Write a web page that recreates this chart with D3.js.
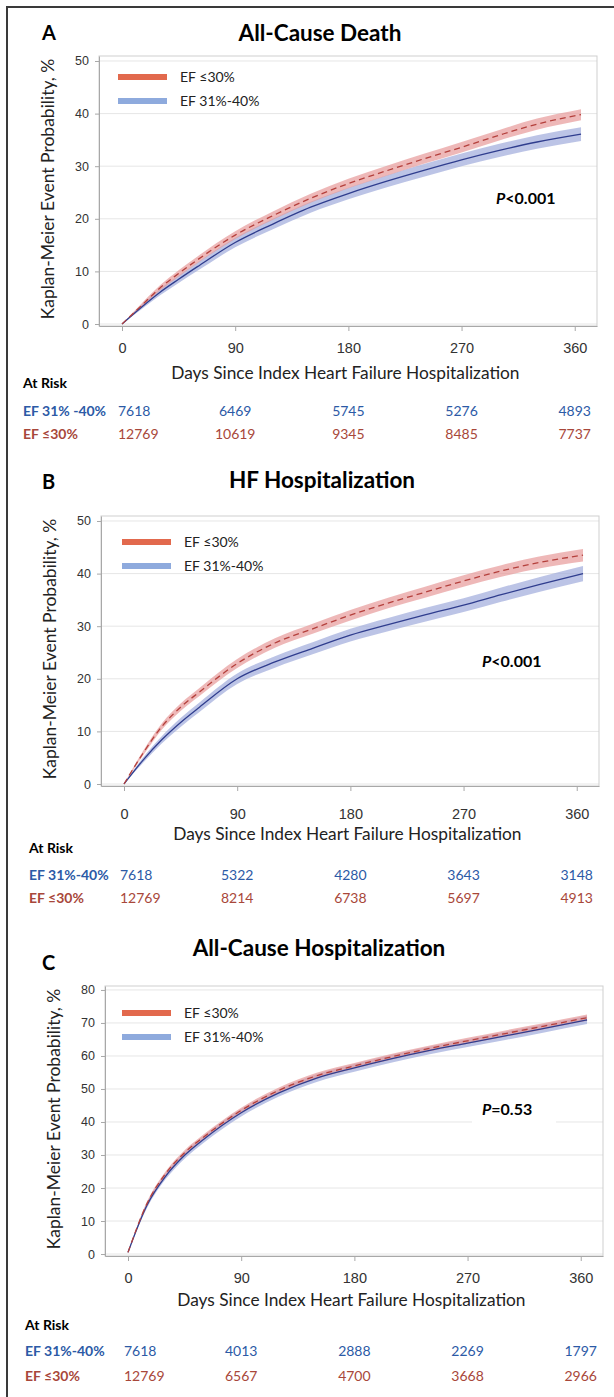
<!DOCTYPE html>
<html>
<head>
<meta charset="utf-8">
<script src="https://cdn.jsdelivr.net/npm/d3@7"></script>
<style>
  body { margin: 0; background: #fff; }
  svg { display: block; font-family: Lato, "Open Sans", "DejaVu Sans", sans-serif; }
  .axis path, .axis line { stroke: #a8a8a8; }
  .x-axis text { font-size: 14.5px; fill: #333; }
  .y-axis text { font-size: 12.5px; fill: #333; }
</style>
</head>
<body>
<svg id="chart" width="614" height="1397"></svg>
<script>
// Days of follow-up at which the curves were read
const days = [0, 15, 30, 45, 60, 90, 120, 150, 180, 210, 240, 270, 300, 330, 365];
const dayTicks = [0, 90, 180, 270, 360];

// A: all-cause death, KM event probability (%) and CI half-width
const deathEF30 = [0, 3.4, 6.8, 9.6, 12.2, 16.9, 20.6, 23.9, 26.7, 29.1, 31.4, 33.6, 35.9, 38.0, 39.8];
const deathEF3140 = [0, 3.1, 6.0, 8.5, 10.9, 15.5, 19.0, 22.2, 24.8, 27.1, 29.2, 31.2, 33.0, 34.6, 36.1];
const deathCI30 = [0, 0.35, 0.5, 0.6, 0.65, 0.75, 0.8, 0.85, 0.9, 0.95, 0.95, 1.0, 1.0, 1.05, 1.05];
const deathCI3140 = [0, 0.4, 0.6, 0.7, 0.8, 0.9, 1.0, 1.05, 1.1, 1.15, 1.2, 1.2, 1.25, 1.3, 1.3];

// B: HF hospitalization
const hfhEF30 = [0, 5.8, 10.9, 14.6, 17.5, 22.9, 26.8, 29.5, 32.1, 34.4, 36.5, 38.6, 40.5, 42.1, 43.5];
const hfhEF3140 = [0, 4.5, 8.4, 11.7, 14.6, 20.0, 23.2, 25.8, 28.3, 30.3, 32.2, 34.0, 36.0, 37.9, 40.0];
const hfhCI30 = [0, 0.45, 0.6, 0.7, 0.75, 0.85, 0.9, 0.95, 1.0, 1.0, 1.05, 1.1, 1.1, 1.15, 1.2];
const hfhCI3140 = [0, 0.5, 0.7, 0.85, 0.9, 1.0, 1.1, 1.15, 1.2, 1.25, 1.3, 1.3, 1.35, 1.4, 1.45];

// C: all-cause hospitalization
const achEF30 = [0.5, 15.2, 24.4, 30.7, 35.4, 43.5, 49.6, 54.0, 57.0, 59.8, 62.3, 64.6, 66.8, 69.0, 71.6];
const achEF3140 = [0.5, 14.7, 23.6, 29.9, 34.7, 42.8, 48.8, 53.3, 56.4, 59.2, 61.7, 63.9, 66.1, 68.3, 70.9];
const achCI30 = [0, 0.6, 0.7, 0.75, 0.8, 0.85, 0.85, 0.9, 0.9, 0.9, 0.9, 0.9, 0.95, 0.95, 0.95];
const achCI3140 = [0, 0.8, 0.9, 1.0, 1.05, 1.1, 1.1, 1.15, 1.15, 1.2, 1.2, 1.2, 1.25, 1.25, 1.25];

// Numbers at risk at 0, 90, 180, 270, 360 days
const deathRisk3140 = [7618, 6469, 5745, 5276, 4893];
const deathRisk30 = [12769, 10619, 9345, 8485, 7737];
const hfhRisk3140 = [7618, 5322, 4280, 3643, 3148];
const hfhRisk30 = [12769, 8214, 6738, 5697, 4913];
const achRisk3140 = [7618, 4013, 2888, 2269, 1797];
const achRisk30 = [12769, 6567, 4700, 3668, 2966];

const colors = {
  line30: "#b4403c",
  band30: "#e79a9a",
  legend30: "#e2694d",
  line3140: "#2f3d8e",
  band3140: "#9fabdb",
  legend3140: "#8eaadd",
  text30: "#a8473a",
  text3140: "#2c5aa6",
};

class KMPanel {
  constructor(_config, _series, _risk) {
    this.config = {
      svg: _config.svg,
      left: _config.left,
      top: _config.top,
      width: _config.width || 498,
      height: _config.height || 270,
      yDomain: _config.yDomain,
      yTicks: _config.yTicks,
      letter: _config.letter,
      title: _config.title,
      titleX: _config.titleX,
      titleY: _config.titleY,
      letterY: _config.letterY,
      legendX: _config.legendX,
      legendY: _config.legendY,
      pX: _config.pX,
      pY: _config.pY,
      pText: _config.pText,
      tickPadding: _config.tickPadding,
      xTitleY: _config.xTitleY,
      atRiskY: _config.atRiskY,
      rowY: _config.rowY,
      tableX: _config.tableX,
      label3140: _config.label3140,
    };
    this.series = _series;
    this.risk = _risk;
    this.initVis();
  }

  initVis() {
    let vis = this;
    const c = vis.config;

    vis.xScale = d3.scaleLinear().domain([-18.3, 377.7]).range([0, c.width]);
    vis.yScale = d3.scaleLinear().domain(c.yDomain).range([c.height, 0]);

    vis.chart = c.svg
      .append("g")
      .attr("transform", `translate(${c.left},${c.top})`);

    // gridlines + frame
    vis.chart
      .selectAll(".grid")
      .data(c.yTicks)
      .join("line")
      .attr("class", "grid")
      .attr("x1", 0)
      .attr("x2", c.width)
      .attr("y1", (d) => vis.yScale(d))
      .attr("y2", (d) => vis.yScale(d))
      .attr("stroke", "#e6e6e6");

    vis.chart
      .append("rect")
      .attr("width", c.width)
      .attr("height", c.height)
      .attr("fill", "none")
      .attr("stroke", "#cfcfcf");

    vis.xAxisG = vis.chart
      .append("g")
      .attr("class", "axis x-axis")
      .attr("transform", `translate(0,${c.height})`)
      .call(
        d3
          .axisBottom(vis.xScale)
          .tickValues(dayTicks)
          .tickSize(5)
          .tickSizeOuter(0)
          .tickPadding(c.tickPadding)
      );

    vis.yAxisG = vis.chart
      .append("g")
      .attr("class", "axis y-axis")
      .call(
        d3
          .axisLeft(vis.yScale)
          .tickValues(c.yTicks)
          .tickSize(4)
          .tickSizeOuter(0)
          .tickPadding(6)
      );

    vis.renderVis();
  }

  renderVis() {
    let vis = this;
    const c = vis.config;

    const pts = (vals, ci) =>
      days.map((d, i) => ({ day: d, v: vals[i], ci: ci[i] }));

    const area = d3
      .area()
      .x((d) => vis.xScale(d.day))
      .y0((d) => vis.yScale(d.v - d.ci))
      .y1((d) => vis.yScale(d.v + d.ci))
      .curve(d3.curveMonotoneX);

    const line = d3
      .line()
      .x((d) => vis.xScale(d.day))
      .y((d) => vis.yScale(d.v))
      .curve(d3.curveMonotoneX);

    const s30 = pts(vis.series.ef30, vis.series.ci30);
    const s3140 = pts(vis.series.ef3140, vis.series.ci3140);

    vis.chart.append("path").datum(s3140).attr("d", area)
      .attr("fill", colors.band3140).attr("opacity", 0.7);
    vis.chart.append("path").datum(s30).attr("d", area)
      .attr("fill", colors.band30).attr("opacity", 0.7);
    vis.chart.append("path").datum(s3140).attr("d", line)
      .attr("fill", "none").attr("stroke", colors.line3140).attr("stroke-width", 1.3);
    vis.chart.append("path").datum(s30).attr("d", line)
      .attr("fill", "none").attr("stroke", colors.line30).attr("stroke-width", 1.3)
      .attr("stroke-dasharray", "6,4");

    // legend
    const legend = [
      { label: "EF \u226430%", color: colors.legend30 },
      { label: "EF 31%-40%", color: colors.legend3140 },
    ];
    const lg = c.svg.append("g").attr("transform", `translate(${c.legendX},${c.legendY})`);
    legend.forEach((d, i) => {
      lg.append("line")
        .attr("x1", 0).attr("x2", 49)
        .attr("y1", i * 24).attr("y2", i * 24)
        .attr("stroke", d.color).attr("stroke-width", 6);
      lg.append("text")
        .attr("x", 62).attr("y", i * 24).attr("dy", "0.35em")
        .style("font-size", "14px").style("fill", "#222")
        .text(d.label);
    });

    // p value with white backing box
    c.svg.append("rect")
      .attr("x", c.pX - 10).attr("y", c.pY - 14)
      .attr("width", 84).attr("height", 30)
      .attr("fill", "#fff");
    const p = c.svg.append("text")
      .attr("x", c.pX).attr("y", c.pY).attr("dy", "0.35em")
      .style("font-size", "16px").style("font-weight", "bold");
    p.append("tspan").style("font-style", "italic").text("P");
    p.append("tspan").text(c.pText);

    // titles
    c.svg.append("text")
      .attr("x", 42).attr("y", c.letterY).attr("dy", "0.35em")
      .style("font-size", "20px").style("font-weight", "bold")
      .text(c.letter);
    c.svg.append("text")
      .attr("x", c.titleX).attr("y", c.titleY).attr("dy", "0.35em")
      .style("text-anchor", "middle")
      .style("font-size", "22.5px").style("font-weight", "bold")
      .text(c.title);

    // y-axis title
    const yMid = c.top + c.height / 2 - 2;
    c.svg.append("text")
      .attr("transform", `translate(${c.left - 51},${yMid}) rotate(-90)`)
      .attr("dy", "0.35em")
      .style("text-anchor", "middle")
      .style("font-size", "17.5px").style("fill", "#222")
      .text("Kaplan-Meier Event Probability, %");

    // x-axis title
    c.svg.append("text")
      .attr("x", c.left + vis.xScale(180) - 3)
      .attr("y", c.xTitleY).attr("dy", "0.35em")
      .style("text-anchor", "middle")
      .style("font-size", "17.3px").style("fill", "#222")
      .text("Days Since Index Heart Failure Hospitalization");

    // at-risk table
    c.svg.append("text")
      .attr("x", c.tableX).attr("y", c.atRiskY).attr("dy", "0.35em")
      .style("font-size", "14px").style("font-weight", "bold")
      .text("At Risk");

    const rows = [
      { label: c.label3140, values: vis.risk.ef3140, color: colors.text3140 },
      { label: "EF \u226430%", values: vis.risk.ef30, color: colors.text30 },
    ];
    rows.forEach((r, i) => {
      const y = c.rowY[i];
      c.svg.append("text")
        .attr("x", c.tableX).attr("y", y).attr("dy", "0.35em")
        .style("font-size", "14px").style("font-weight", "bold")
        .style("fill", r.color)
        .text(r.label);
      c.svg.append("g")
        .selectAll("text")
        .data(r.values)
        .join("text")
        .attr("x", (d, j) => c.left + vis.xScale(dayTicks[j]) - (j === 0 ? 4 : 0))
        .attr("y", y)
        .attr("dy", "0.35em")
        .style("text-anchor", (d, j) => (j === 0 ? "start" : "middle"))
        .style("font-size", "14px")
        .style("fill", r.color)
        .text((d) => d);
    });
  }
}

const svg = d3.select("#chart");

// outer figure border (left and top edges visible)
svg.append("rect")
  .attr("x", 7).attr("y", 7)
  .attr("width", 640).attr("height", 1420)
  .attr("fill", "none")
  .attr("stroke", "#3a3a3a")
  .attr("stroke-width", 2);

new KMPanel(
  {
    svg: svg, left: 99, top: 56, yDomain: [-0.38, 50.95], yTicks: [0, 10, 20, 30, 40, 50],
    letter: "A", title: "All-Cause Death", titleX: 320, letterY: 33, titleY: 33,
    legendX: 118, legendY: 77, pX: 496, pY: 198, pText: "<0.001",
    tickPadding: 12, xTitleY: 373, atRiskY: 383, rowY: [411, 434], tableX: 23,
    label3140: "EF 31% -40%",
  },
  { ef30: deathEF30, ef3140: deathEF3140, ci30: deathCI30, ci3140: deathCI3140 },
  { ef30: deathRisk30, ef3140: deathRisk3140 }
);

new KMPanel(
  {
    svg: svg, left: 101, top: 516, yDomain: [-0.38, 50.95], yTicks: [0, 10, 20, 30, 40, 50],
    letter: "B", title: "HF Hospitalization", titleX: 322, letterY: 482, titleY: 480,
    legendX: 122, legendY: 542, pX: 482, pY: 661, pText: "<0.001",
    tickPadding: 18, xTitleY: 834, atRiskY: 848, rowY: [875, 898], tableX: 29,
    label3140: "EF 31%-40%",
  },
  { ef30: hfhEF30, ef3140: hfhEF3140, ci30: hfhCI30, ci3140: hfhCI3140 },
  { ef30: hfhRisk30, ef3140: hfhRisk3140 }
);

new KMPanel(
  {
    svg: svg, left: 105, top: 986, yDomain: [-0.6, 81.2], yTicks: [0, 10, 20, 30, 40, 50, 60, 70, 80],
    letter: "C", title: "All-Cause Hospitalization", titleX: 319, letterY: 963, titleY: 948,
    legendX: 122, legendY: 1013, pX: 482, pY: 1109, pText: "=0.53",
    tickPadding: 12, xTitleY: 1300, atRiskY: 1325, rowY: [1351, 1376], tableX: 25,
    label3140: "EF 31%-40%",
  },
  { ef30: achEF30, ef3140: achEF3140, ci30: achCI30, ci3140: achCI3140 },
  { ef30: achRisk30, ef3140: achRisk3140 }
);
</script>
</body>
</html>
